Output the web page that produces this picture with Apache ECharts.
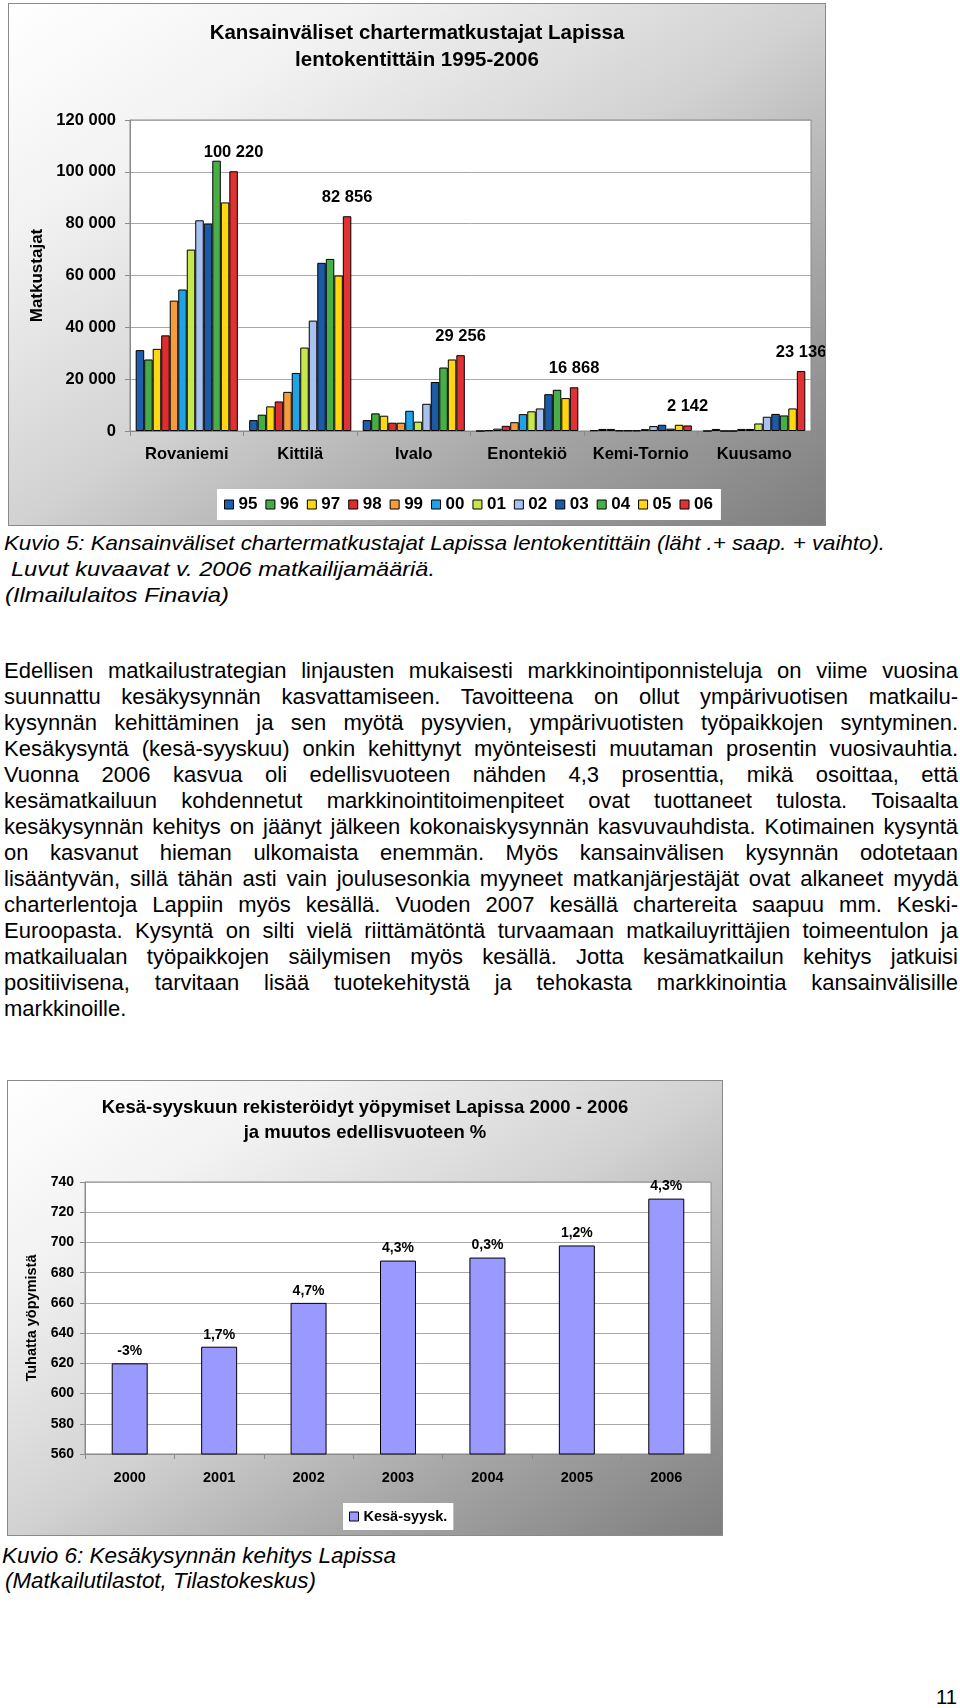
<!DOCTYPE html>
<html><head><meta charset="utf-8">
<script src="https://cdn.jsdelivr.net/npm/echarts@6/dist/echarts.min.js"></script>
<style>
html,body{margin:0;padding:0;background:#fff;}
body{width:960px;height:1708px;position:relative;overflow:hidden;font-family:"Liberation Sans",Arial,sans-serif;color:#000;}
.frame{position:absolute;border:1px solid #8a8a8a;background:linear-gradient(to bottom right,#ffffff 0%,#f2f2f2 22%,#d2d2d2 50%,#a4a4a4 75%,#7e7e7e 100%);}
.tl{position:absolute;white-space:nowrap;transform-origin:0 50%;}
</style></head>
<body>
<div class="frame" style="left:8px;top:3px;width:816px;height:521px;"><div id="c1" style="width:816px;height:521px"></div></div>
<div class="frame" style="left:7px;top:1080px;width:714px;height:454px;"><div id="c2" style="width:714px;height:454px"></div></div>
<div id="txt"></div>
<script>
// ---------- Chart 1 data ----------
const airports = ['Rovaniemi', 'Kittilä', 'Ivalo', 'Enontekiö', 'Kemi-Tornio', 'Kuusamo'];
const yearNames = ['95', '96', '97', '98', '99', '00', '01', '02', '03', '04', '05', '06'];
const y95 = [31200, 4200, 4200, 0, 300, 0];
const y96 = [27600, 6300, 6800, 300, 800, 800];
const y97 = [31700, 9500, 5900, 900, 800, 0];
const y98 = [36900, 11400, 3200, 2000, 200, 0];
const y99 = [50300, 15100, 3200, 3400, 200, 800];
const y00 = [54600, 22400, 7800, 6500, 200, 800];
const y01 = [70000, 32200, 3600, 7600, 700, 2900];
const y02 = [81300, 42600, 10500, 8700, 1900, 5500];
const y03 = [80000, 64900, 18900, 14200, 2400, 6600];
const y04 = [104300, 66400, 24500, 15900, 900, 6000];
const y05 = [88200, 60000, 27600, 12700, 2400, 8700];
const y06 = [100220, 82856, 29256, 16868, 2142, 23136];
const yearSeries = [y95, y96, y97, y98, y99, y00, y01, y02, y03, y04, y05, y06];

// ---------- Chart 2 data ----------
const years2 = ['2000', '2001', '2002', '2003', '2004', '2005', '2006'];
const nights = [620, 631, 660, 688, 690, 698, 729];
const changePct = ['-3%', '1,7%', '4,7%', '4,3%', '0,3%', '1,2%', '4,3%'];

// ---------- styles ----------
const yearColors = ['#1f5ea8', '#46ad46', '#ffd814', '#dc2e2e', '#f59c3e', '#1ea3e4', '#c6e84a', '#a9c1ef', '#1c5aa5', '#48af48', '#ffd60f', '#e03232'];
const FF = '"Liberation Sans", Arial, sans-serif';
const fmt = v => String(v).replace(/\B(?=(\d{3})+(?!\d))/g, ' ');

const c1 = echarts.init(document.getElementById('c1'), null, {renderer: 'canvas'});
c1.setOption({
  backgroundColor: 'transparent',
  animation: false,
  textStyle: {fontFamily: FF},
  title: {
    text: 'Kansainväliset chartermatkustajat Lapissa\nlentokentittäin 1995-2006',
    left: 'center', top: 16, padding: 0,
    textStyle: {fontSize: 20.5, fontWeight: 'bold', lineHeight: 27, color: '#000', fontFamily: FF}
  },
  legend: {
    data: yearNames, left: 208, top: 485, padding: [7, 8, 7, 7],
    itemWidth: 9, itemHeight: 9, itemGap: 8, icon: 'rect',
    backgroundColor: '#fff',
    itemStyle: {borderColor: '#000', borderWidth: 1},
    textStyle: {fontSize: 17, fontWeight: 'bold', color: '#000', fontFamily: FF}
  },
  grid: {left: 121, top: 116, right: 14, bottom: 94, show: true, backgroundColor: '#fff', borderColor: '#8a8a8a', borderWidth: 1},
  xAxis: {
    type: 'category', data: airports,
    axisLine: {lineStyle: {color: '#8a8a8a'}},
    axisTick: {show: true, length: 5, lineStyle: {color: '#8a8a8a'}},
    axisLabel: {interval: 0, fontSize: 16.5, fontWeight: 'bold', color: '#000', margin: 15, fontFamily: FF}
  },
  yAxis: {
    type: 'value', min: 0, max: 120000, interval: 20000,
    name: 'Matkustajat', nameLocation: 'middle', nameGap: 84,
    nameTextStyle: {fontSize: 17, fontWeight: 'bold', color: '#000', fontFamily: FF},
    axisLine: {show: true, lineStyle: {color: '#8a8a8a'}},
    axisTick: {show: true, length: 5, lineStyle: {color: '#8a8a8a'}},
    splitLine: {lineStyle: {color: '#a8a8a8'}},
    axisLabel: {fontSize: 16.5, fontWeight: 'bold', color: '#000', margin: 14, formatter: v => fmt(v), fontFamily: FF}
  },
  series: yearNames.map((n, i) => ({
    name: n, type: 'bar', data: yearSeries[i],
    barGap: '0%', barCategoryGap: '10%',
    itemStyle: {color: yearColors[i], borderColor: '#000', borderWidth: 1},
    label: i === yearNames.length - 1 ? {
      show: true, position: 'top', distance: 10,
      formatter: p => fmt(p.value),
      fontSize: 16.5, fontWeight: 'bold', color: '#000', fontFamily: FF
    } : {show: false}
  }))
});

const c2 = echarts.init(document.getElementById('c2'), null, {renderer: 'canvas'});
c2.setOption({
  backgroundColor: 'transparent',
  animation: false,
  textStyle: {fontFamily: FF},
  title: {
    text: 'Kesä-syyskuun rekisteröidyt yöpymiset Lapissa 2000 - 2006\nja muutos edellisvuoteen %',
    left: 'center', top: 14, padding: 0,
    textStyle: {fontSize: 18.5, fontWeight: 'bold', lineHeight: 25, color: '#000', fontFamily: FF}
  },
  legend: {
    data: ['Kesä-syysk.'], left: 335, top: 422, padding: [6, 6, 6, 6],
    itemWidth: 9, itemHeight: 9, icon: 'rect', backgroundColor: '#fff',
    itemStyle: {borderColor: '#000', borderWidth: 1},
    textStyle: {fontSize: 14.5, fontWeight: 'bold', color: '#000', fontFamily: FF}
  },
  grid: {left: 77, top: 101, right: 11, bottom: 81, show: true, backgroundColor: '#fff', borderColor: '#8a8a8a', borderWidth: 1},
  xAxis: {
    type: 'category', data: years2,
    axisLine: {lineStyle: {color: '#8a8a8a'}},
    axisTick: {show: true, length: 5, lineStyle: {color: '#8a8a8a'}},
    axisLabel: {interval: 0, fontSize: 14.5, fontWeight: 'bold', color: '#000', margin: 16, fontFamily: FF}
  },
  yAxis: {
    type: 'value', min: 560, max: 740, interval: 20,
    name: 'Tuhatta yöpymistä', nameLocation: 'middle', nameGap: 45,
    nameTextStyle: {fontSize: 14.5, fontWeight: 'bold', color: '#000', fontFamily: FF},
    axisLine: {show: true, lineStyle: {color: '#8a8a8a'}},
    axisTick: {show: true, length: 5, lineStyle: {color: '#8a8a8a'}},
    splitLine: {lineStyle: {color: '#a8a8a8'}},
    axisLabel: {fontSize: 14, fontWeight: 'bold', color: '#000', margin: 11, fontFamily: FF}
  },
  series: [{
    name: 'Kesä-syysk.', type: 'bar', data: nights, barWidth: 36,
    itemStyle: {color: '#9999ff', borderColor: '#000', borderWidth: 1},
    label: {show: true, position: 'top', distance: 5, formatter: p => changePct[p.dataIndex],
      fontSize: 14, fontWeight: 'bold', color: '#000', fontFamily: FF}
  }]
});

// ---------- document text ----------
const captionLines = [
  {t: 'Kuvio 5: Kansainväliset chartermatkustajat Lapissa lentokentittäin (läht .+ saap. + vaihto).', x: 4, y: 543, w: 881, fs: 21, it: true},
  {t: 'Luvut kuvaavat v. 2006 matkailijamääriä.', x: 11, y: 569, w: 424, fs: 21, it: true},
  {t: '(Ilmailulaitos Finavia)', x: 5, y: 595, w: 224, fs: 21, it: true},
  {t: 'Kuvio 6: Kesäkysynnän kehitys Lapissa', x: 2, y: 1556, w: 394, fs: 22, it: true},
  {t: '(Matkailutilastot, Tilastokeskus)', x: 5, y: 1581, w: 311, fs: 22, it: true},
  {t: '11', x: 936, y: 1697, w: 21, fs: 20, it: false}
];
const paraLines = [
  'Edellisen matkailustrategian linjausten mukaisesti markkinointiponnisteluja on viime vuosina',
  'suunnattu kesäkysynnän kasvattamiseen. Tavoitteena on ollut ympärivuotisen matkailu-',
  'kysynnän kehittäminen ja sen myötä pysyvien, ympärivuotisten työpaikkojen syntyminen.',
  'Kesäkysyntä (kesä-syyskuu) onkin kehittynyt myönteisesti muutaman prosentin vuosivauhtia.',
  'Vuonna 2006 kasvua oli edellisvuoteen nähden 4,3 prosenttia, mikä osoittaa, että',
  'kesämatkailuun kohdennetut markkinointitoimenpiteet ovat tuottaneet tulosta. Toisaalta',
  'kesäkysynnän kehitys on jäänyt jälkeen kokonaiskysynnän kasvuvauhdista. Kotimainen kysyntä',
  'on kasvanut hieman ulkomaista enemmän. Myös kansainvälisen kysynnän odotetaan',
  'lisääntyvän, sillä tähän asti vain joulusesonkia myyneet matkanjärjestäjät ovat alkaneet myydä',
  'charterlentoja Lappiin myös kesällä. Vuoden 2007 kesällä chartereita saapuu mm. Keski-',
  'Euroopasta. Kysyntä on silti vielä riittämätöntä turvaamaan matkailuyrittäjien toimeentulon ja',
  'matkailualan työpaikkojen säilymisen myös kesällä. Jotta kesämatkailun kehitys jatkuisi',
  'positiivisena, tarvitaan lisää tuotekehitystä ja tehokasta markkinointia kansainvälisille',
  'markkinoille.'
];
const txt = document.getElementById('txt');
function place(t, x, y, fs, it) {
  const s = document.createElement('span');
  s.className = 'tl';
  s.textContent = t;
  s.style.fontSize = fs + 'px';
  s.style.lineHeight = '26px';
  s.style.left = x + 'px';
  s.style.top = (y - 13) + 'px';
  if (it) s.style.fontStyle = 'italic';
  txt.appendChild(s);
  return s;
}
captionLines.forEach(c => {
  const s = place(c.t, c.x, c.y, c.fs, c.it);
  const nat = s.getBoundingClientRect().width;
  s.style.transform = 'scaleX(' + (c.w / nat) + ')';
});
const PX = 4, PW = 954, PY0 = 671, PDY = 26, PFS = 22;
paraLines.forEach((t, i) => {
  const s = place(t, PX, PY0 + i * PDY, PFS, false);
  if (i === paraLines.length - 1) return;
  const nat = s.getBoundingClientRect().width;
  const spaces = (t.match(/ /g) || []).length;
  if (nat < PW) {
    s.style.wordSpacing = ((PW - nat) / spaces) + 'px';
  } else {
    s.style.transform = 'scaleX(' + (PW / nat) + ')';
  }
});
</script>
</body></html>
